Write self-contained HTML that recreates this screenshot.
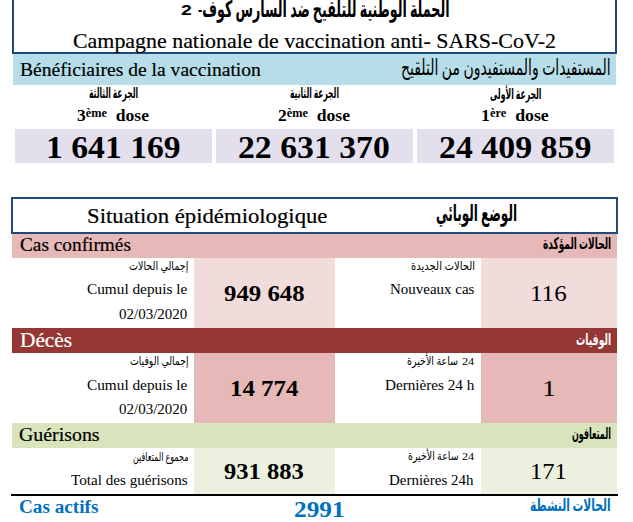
<!DOCTYPE html>
<html lang="fr">
<head>
<meta charset="utf-8">
<title>Campagne nationale de vaccination anti- SARS-CoV-2</title>
<style>
html,body{margin:0;padding:0;background:#fff;}
body{width:633px;height:522px;position:relative;overflow:hidden;font-family:"Liberation Serif","DejaVu Sans",serif;color:#000;}
.b{position:absolute;box-sizing:border-box;}
.t{position:absolute;white-space:nowrap;line-height:1;margin:0;padding:0;transform-origin:0 0;}
.ar{direction:rtl;unicode-bidi:isolate;}
.bold{font-weight:bold;}
.cam{-webkit-text-stroke:0.2px currentColor;}
.sans{font-family:"Liberation Sans","DejaVu Sans",sans-serif;}
sup.o{font-size:70%;vertical-align:baseline;position:relative;top:-0.36em;}
</style>
</head>
<body>

<div class="b" style="left:12px;top:-20px;width:605px;height:74px;border:2px solid #1f497d;"></div>
<div class="b" style="left:13px;top:54px;width:603px;height:31px;background:#b7dee8;"></div>
<div class="b" style="left:15px;top:129px;width:197px;height:34px;background:#e4dfec;"></div>
<div class="b" style="left:216px;top:129px;width:197px;height:34px;background:#e4dfec;"></div>
<div class="b" style="left:417px;top:129px;width:197px;height:34px;background:#e4dfec;"></div>
<div class="b" style="left:11px;top:197px;width:607px;height:37px;border:2px solid #1f497d;"></div>
<div class="b" style="left:12px;top:234px;width:605px;height:24px;background:#e6b8b7;"></div>
<div class="b" style="left:194px;top:258px;width:141px;height:70px;background:#f2dcdb;"></div>
<div class="b" style="left:481px;top:258px;width:136px;height:70px;background:#f2dcdb;"></div>
<div class="b" style="left:12px;top:328px;width:605px;height:25px;background:#953735;"></div>
<div class="b" style="left:194px;top:353px;width:141px;height:70px;background:#e6b8b7;"></div>
<div class="b" style="left:481px;top:353px;width:136px;height:70px;background:#e6b8b7;"></div>
<div class="b" style="left:12px;top:423px;width:605px;height:24.5px;background:#d7e4bc;"></div>
<div class="b" style="left:194px;top:447.5px;width:141px;height:46.5px;background:#ebf1de;"></div>
<div class="b" style="left:481px;top:447.5px;width:136px;height:46.5px;background:#ebf1de;"></div>
<div class="b" style="left:11px;top:494px;width:607px;height:2px;background:#000;"></div>
<div class="t ar bold" id="t_ar_title" style="left:198px;top:-2px;font-size:23px;transform:scaleX(0.5510);">الحملة الوطنية للتلقيح ضد السارس كوف-</div>
<div class="t sans bold" id="t_ar_two" style="left:181px;top:2px;font-size:15.5px;transform:scaleX(1.2560);">2</div>
<div class="t cam" id="t_fr_title" style="left:73px;top:30px;font-size:22px;transform:scaleX(0.9960);">Campagne nationale de vaccination anti- SARS-CoV-2</div>
<div class="t cam" id="t_benef" style="left:20px;top:60px;font-size:19px;transform:scaleX(1.0307);">Bénéficiaires de la vaccination</div>
<div class="t ar" id="t_benef_ar" style="left:401px;top:57px;font-size:22px;transform:scaleX(0.6351);">المستفيدات والمستفيدون من التلقيح</div>
<div class="t ar bold" id="t_d3_ar" style="left:89px;top:86px;font-size:14.5px;transform:scaleX(0.5214);">الجرعة الثالثة</div>
<div class="t ar bold" id="t_d2_ar" style="left:290px;top:86px;font-size:14.5px;transform:scaleX(0.5202);">الجرعة الثانية</div>
<div class="t ar bold" id="t_d1_ar" style="left:490px;top:87px;font-size:14.5px;transform:scaleX(0.5303);">الجرعة الأولى</div>
<div class="t bold" id="t_d3" style="left:77px;top:107px;font-size:17px;transform:scaleX(1.0349);">3<sup class="o">ème</sup>&nbsp; dose</div>
<div class="t bold" id="t_d2" style="left:278px;top:107px;font-size:17px;transform:scaleX(1.0351);">2<sup class="o">ème</sup>&nbsp; dose</div>
<div class="t bold" id="t_d1" style="left:481px;top:107px;font-size:17px;transform:scaleX(1.0462);">1<sup class="o">ère</sup>&nbsp; dose</div>
<div class="t bold" id="t_n3" style="left:46px;top:132px;font-size:31px;transform:scaleX(1.0860);">1 641 169</div>
<div class="t bold" id="t_n2" style="left:238px;top:132px;font-size:31px;transform:scaleX(1.0886);">22 631 370</div>
<div class="t bold" id="t_n1" style="left:439px;top:132px;font-size:31px;transform:scaleX(1.0927);">24 409 859</div>
<div class="t cam" id="t_sit" style="left:87px;top:206px;font-size:21.5px;transform:scaleX(1.0569);">Situation épidémiologique</div>
<div class="t ar bold" id="t_sit_ar" style="left:436px;top:202px;font-size:23px;transform:scaleX(0.5237);">الوضع الوبائي</div>
<div class="t cam" id="t_cas" style="left:20px;top:235px;font-size:19.5px;transform:scaleX(0.9897);">Cas confirmés</div>
<div class="t ar bold" id="t_cas_ar" style="left:543px;top:236px;font-size:16px;transform:scaleX(0.5617);">الحالات المؤكدة</div>
<div class="t ar" id="t_c1a" style="left:129px;top:260px;font-size:12px;transform:scaleX(0.7962);">إجمالي الحالات</div>
<div class="t" id="t_c1b" style="left:87px;top:282px;font-size:15px;transform:scaleX(1.0194);">Cumul depuis le</div>
<div class="t" id="t_c1c" style="left:119px;top:307px;font-size:15px;transform:scaleX(0.9989);">02/03/2020</div>
<div class="t bold" id="t_c1n" style="left:224px;top:283px;font-size:22.5px;transform:scaleX(1.1033);">949 648</div>
<div class="t ar" id="t_c2a" style="left:411px;top:260px;font-size:12px;transform:scaleX(0.8371);">الحالات الجديدة</div>
<div class="t" id="t_c2b" style="left:390px;top:282px;font-size:15px;transform:scaleX(0.9982);">Nouveaux cas</div>
<div class="t" id="t_c2n" style="left:530px;top:283px;font-size:22.5px;transform:scaleX(1.1142);">116</div>
<div class="t cam" id="t_dec" style="left:20px;top:330px;font-size:21px;color:#fff;transform:scaleX(1.0153);">Décès</div>
<div class="t ar bold" id="t_dec_ar" style="left:576px;top:332px;font-size:16px;color:#fff;transform:scaleX(0.5794);">الوفيات</div>
<div class="t ar" id="t_e1a" style="left:130px;top:355px;font-size:12px;transform:scaleX(0.7748);">إجمالي الوفيات</div>
<div class="t" id="t_e1b" style="left:87px;top:378px;font-size:15px;transform:scaleX(1.0194);">Cumul depuis le</div>
<div class="t" id="t_e1c" style="left:119px;top:402px;font-size:15px;transform:scaleX(0.9989);">02/03/2020</div>
<div class="t bold" id="t_e1n" style="left:230px;top:378px;font-size:22.5px;transform:scaleX(1.1057);">14 774</div>
<div class="t ar" id="t_e2a" style="left:407px;top:355px;font-size:12px;transform:scaleX(0.7914);">ساعة الأخيرة</div>
<div class="t" id="t_e2d" style="left:462px;top:356px;font-size:11px;transform:scaleX(1.1067);">24</div>
<div class="t" id="t_e2b" style="left:385px;top:378px;font-size:15px;transform:scaleX(1.0115);">Dernières 24 h</div>
<div class="t" id="t_e2n" style="left:542px;top:378px;font-size:22.5px;transform:scaleX(1.2411);">1</div>
<div class="t cam" id="t_gue" style="left:19px;top:425px;font-size:19.5px;transform:scaleX(1.0193);">Guérisons</div>
<div class="t ar bold" id="t_gue_ar" style="left:572px;top:426px;font-size:16px;transform:scaleX(0.5000);">المتعافون</div>
<div class="t ar" id="t_g1a" style="left:133px;top:451px;font-size:12px;transform:scaleX(0.6690);">مجموع المتعافين</div>
<div class="t" id="t_g1b" style="left:71px;top:473px;font-size:15px;transform:scaleX(1.0091);">Total des guérisons</div>
<div class="t bold" id="t_g1n" style="left:224px;top:461px;font-size:22.5px;transform:scaleX(1.0909);">931 883</div>
<div class="t ar" id="t_g2a" style="left:408px;top:450px;font-size:12px;transform:scaleX(0.7842);">ساعة الأخيرة</div>
<div class="t" id="t_g2d" style="left:462px;top:451px;font-size:11px;transform:scaleX(1.1067);">24</div>
<div class="t" id="t_g2b" style="left:389px;top:473px;font-size:15px;transform:scaleX(0.9989);">Dernières 24h</div>
<div class="t" id="t_g2n" style="left:530px;top:461px;font-size:22.5px;transform:scaleX(1.0912);">171</div>
<div class="t bold" id="t_act" style="left:19px;top:498px;font-size:18.5px;color:#0070c0;transform:scaleX(1.0365);">Cas actifs</div>
<div class="t bold" id="t_actn" style="left:294px;top:499px;font-size:22.5px;color:#0070c0;transform:scaleX(1.1249);">2991</div>
<div class="t ar bold" id="t_act_ar" style="left:530px;top:497px;font-size:17px;color:#0070c0;transform:scaleX(0.6303);">الحالات النشطة</div>
</body>
</html>
